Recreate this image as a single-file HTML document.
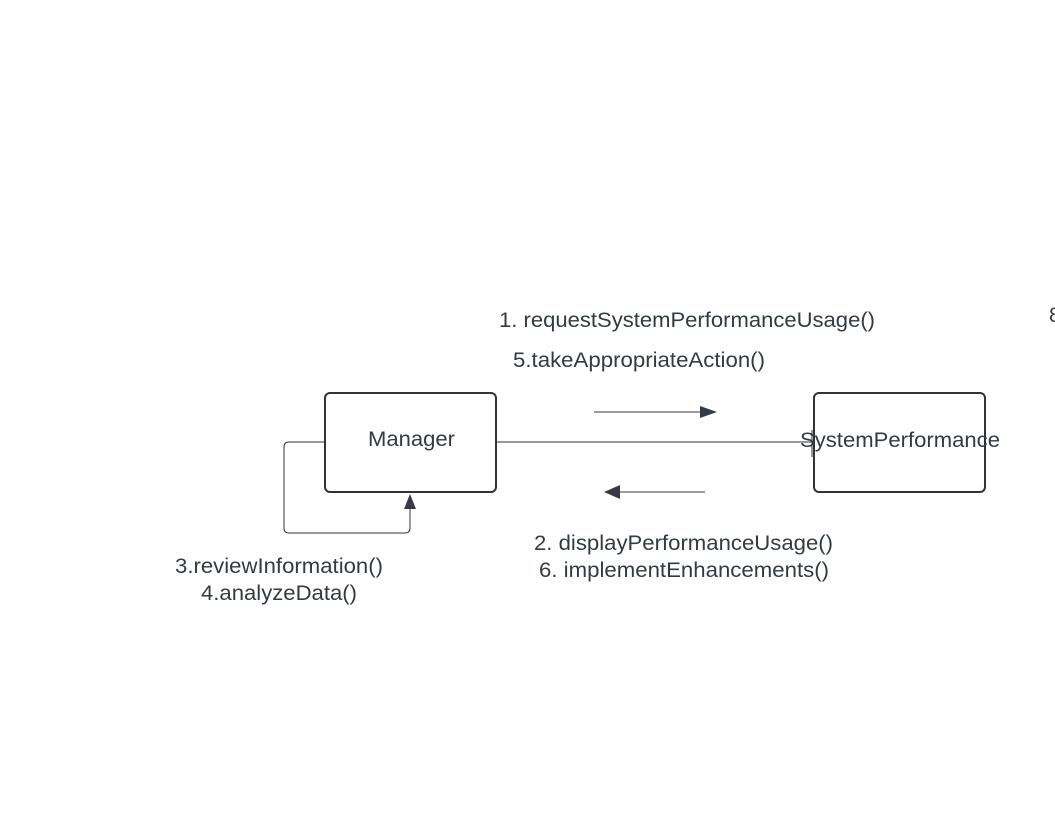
<!DOCTYPE html>
<html><head><style>
html,body{margin:0;padding:0;background:#fff;width:1055px;height:838px;overflow:hidden}
svg text{font-family:"Liberation Sans",sans-serif;fill:#333a45}
</style></head><body>
<svg width="1055" height="838" xmlns="http://www.w3.org/2000/svg">
<rect x="325" y="393" width="171" height="99" rx="5" fill="#fff" stroke="#333" stroke-width="2"/>
<rect x="814" y="393" width="171" height="99" rx="5" fill="#fff" stroke="#333" stroke-width="2"/>
<line x1="496" y1="442" x2="812" y2="442" stroke="#333" stroke-width="1"/>
<line x1="812" y1="430" x2="812" y2="457" stroke="#333" stroke-width="1"/>
<path d="M325 442 H289 Q284 442 284 447 V528 Q284 533 289 533 H405 Q410 533 410 528 V508" fill="none" stroke="#333" stroke-width="1"/>
<polygon points="410,494 404,509 416,509" fill="#333a45"/>
<line x1="594" y1="412" x2="702" y2="412" stroke="#333a45" stroke-width="1"/>
<polygon points="717,412 700,406 700,418" fill="#333a45"/>
<line x1="619" y1="492" x2="705" y2="492" stroke="#333a45" stroke-width="1"/>
<polygon points="604,492 620,485 620,499" fill="#333a45"/>
<text x="368" y="446" font-size="21" textLength="87" lengthAdjust="spacingAndGlyphs">Manager</text>
<text x="800" y="447" font-size="21" textLength="200" lengthAdjust="spacingAndGlyphs">SystemPerformance</text>
<text x="499" y="327" font-size="21" textLength="376" lengthAdjust="spacingAndGlyphs">1. requestSystemPerformanceUsage()</text>
<text x="513" y="367" font-size="21" textLength="252" lengthAdjust="spacingAndGlyphs">5.takeAppropriateAction()</text>
<text x="534" y="550" font-size="21" textLength="299" lengthAdjust="spacingAndGlyphs">2. displayPerformanceUsage()</text>
<text x="539" y="577" font-size="21" textLength="290" lengthAdjust="spacingAndGlyphs">6. implementEnhancements()</text>
<text x="175" y="573" font-size="21" textLength="208" lengthAdjust="spacingAndGlyphs">3.reviewInformation()</text>
<text x="201" y="600" font-size="21" textLength="156" lengthAdjust="spacingAndGlyphs">4.analyzeData()</text>
<text x="1049" y="322" font-size="21">8</text>
</svg>
</body></html>
